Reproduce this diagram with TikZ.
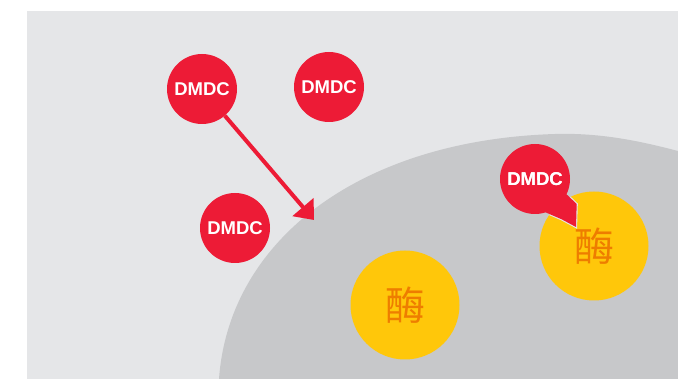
\documentclass[tikz,border=0pt]{standalone}
\usepackage{fontspec}
\setmainfont{Liberation Sans}
\newfontfamily\cjk{Noto Sans CJK SC}
\usepackage{tikz}
\usetikzlibrary{arrows.meta}
\definecolor{bggray}{HTML}{E5E6E8}
\definecolor{zonegray}{HTML}{C7C8CA}
\definecolor{dmdcred}{HTML}{ED1B36}
\definecolor{enzyellow}{HTML}{FFC70A}
\definecolor{enzorange}{HTML}{EE7D00}
\tikzstyle{dmdc} = [circle, minimum size=70pt, inner sep=0pt, fill=dmdcred, text=white, font=\fontsize{18.5}{18.5}\selectfont\bfseries]
\tikzstyle{enzyme} = [circle, minimum size=109pt, inner sep=0pt, fill=enzyellow, text=enzorange, font=\cjk\fontsize{40}{40}\selectfont]
\tikzstyle{arrow} = [line width=4pt, draw=dmdcred, -{Triangle[length=17pt,width=27pt]}]

\begin{document}
\begin{tikzpicture}[x=1pt, y=-1pt] % pixel units, y downwards

\useasboundingbox (0,0) rectangle (678,379);
\fill[bggray] (27,11) rectangle (678,379);

% Cell region
\fill[zonegray] (219,379) .. controls (229,240) and (360,140) .. (555,134)
  .. controls (600,132.6) and (640,141) .. (678,151) -- (678,379) -- cycle;

% Nodes
\node (dmdc1) [dmdc] at (202,89) {DMDC};
\node (dmdc2) [dmdc] at (329,87) {DMDC};
\node (dmdc3) [dmdc] at (235,228) {DMDC};
\node (enz1) [enzyme] at (405,305) {酶};
\node (enz2) [enzyme] at (594,246) {酶};
\node (dmdc4) [dmdc] at (535,179) {DMDC};
\coordinate (hit) at (314,220);
\coordinate (tailtip) at (576,227);

% Bubble tail
\begin{scope}
\clip (enz2.center) circle (54.5);
\draw[bggray, line width=2.2pt] (dmdc4.-26) -- (576.7,204) -- (tailtip) -- (561.7,219.3) -- (dmdc4.-72);
\end{scope}
\fill[dmdcred] (dmdc4.-26) -- (576.7,204) -- (tailtip) -- (561.7,219.3) -- (dmdc4.-72) -- (dmdc4.center) -- cycle;
\node[text=white, font=\fontsize{18.5}{18.5}\selectfont\bfseries] at (dmdc4.center) {DMDC};

% Arrows
\draw [arrow] (dmdc1) -- (hit);

\end{tikzpicture}
\end{document}
